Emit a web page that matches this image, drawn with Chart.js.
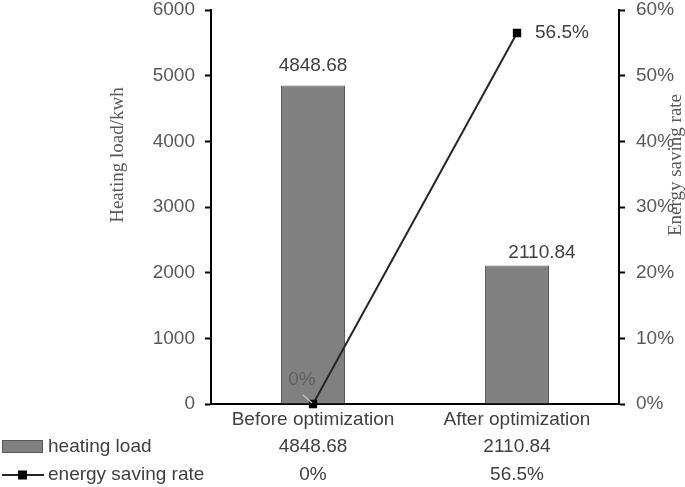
<!DOCTYPE html>
<html>
<head>
<meta charset="utf-8">
<script src="https://cdn.jsdelivr.net/npm/chart.js@4.4.0/dist/chart.umd.min.js"></script>
<style>
  html, body { margin: 0; padding: 0; background: #fff; }
  #wrap { width: 685px; height: 487px; position: relative; }
</style>
</head>
<body>
<div id="wrap"><canvas id="c"></canvas></div>
<script>
const categories = ['Before optimization', 'After optimization'];
const heatingLoad = [4848.68, 2110.84];
const savingRate = [0, 56.5];
const loadTicks = [0, 1000, 2000, 3000, 4000, 5000, 6000];
const rateTicks = [0, 10, 20, 30, 40, 50, 60];
const seriesNames = ['heating load', 'energy saving rate'];

const SANS = '"Liberation Sans", Arial, sans-serif';
const SERIF = '"Liberation Serif", "Times New Roman", serif';
const FS = 19;
const tickGrey = '#595959';
const textGrey = '#404040';

const fmtLoad = v => v.toFixed(2);
const fmtRate = v => v + '%';

// labels, titles and the data table under the axis
const extras = {
    id: 'extras',
    afterDatasetsDraw(chart) {
        const ctx = chart.ctx;
        const x = chart.scales.x;
        ctx.save();
        ctx.font = FS + 'px ' + SANS;
        ctx.fillStyle = textGrey;
        ctx.textAlign = 'center';
        ctx.textBaseline = 'middle';

        // bar values
        const barShift = [[0, -20], [25, -13]];
        chart.getDatasetMeta(0).data.forEach((bar, i) => {
            ctx.fillText(fmtLoad(heatingLoad[i]), bar.x + barShift[i][0], bar.y + barShift[i][1]);
        });

        // line values
        const pts = chart.getDatasetMeta(1).data;
        ctx.fillStyle = '#606060';
        ctx.fillText(fmtRate(savingRate[0]), pts[0].x - 11, pts[0].y - 24);
        ctx.strokeStyle = '#bfbfbf';
        ctx.lineWidth = 1.5;
        ctx.beginPath();
        ctx.moveTo(pts[0].x - 10, pts[0].y - 9);
        ctx.lineTo(pts[0].x - 1, pts[0].y - 1);
        ctx.stroke();
        ctx.fillStyle = textGrey;
        ctx.textAlign = 'left';
        ctx.fillText(fmtRate(savingRate[1]), pts[1].x + 18, pts[1].y);

        // axis titles
        ctx.font = '19px ' + SERIF;
        ctx.fillStyle = tickGrey;
        ctx.textAlign = 'center';
        ctx.save();
        ctx.translate(118, 155);
        ctx.rotate(-Math.PI / 2);
        ctx.fillText('Heating load/kwh', 0, 0);
        ctx.restore();
        ctx.save();
        ctx.translate(676, 165);
        ctx.rotate(-Math.PI / 2);
        ctx.fillText('Energy saving rate', 0, 0);
        ctx.restore();

        // data table
        const row1 = 447, row2 = 475;
        ctx.fillStyle = '#808080';
        ctx.strokeStyle = '#595959';
        ctx.lineWidth = 1;
        ctx.fillRect(2, 440, 41, 13);
        ctx.strokeRect(2.5, 440.5, 40, 12);
        ctx.strokeStyle = '#262626';
        ctx.lineWidth = 2;
        ctx.beginPath();
        ctx.moveTo(2, row2);
        ctx.lineTo(44, row2);
        ctx.stroke();
        ctx.fillStyle = '#000';
        ctx.fillRect(18, row2 - 4.5, 9, 9);

        ctx.font = FS + 'px ' + SANS;
        ctx.fillStyle = textGrey;
        ctx.textAlign = 'left';
        ctx.fillText(seriesNames[0], 48, row1);
        ctx.fillText(seriesNames[1], 48, row2);
        ctx.textAlign = 'center';
        categories.forEach((c, i) => {
            const cx = x.getPixelForValue(i);
            ctx.fillText(fmtLoad(heatingLoad[i]), cx, row1);
            ctx.fillText(fmtRate(savingRate[i]), cx, row2);
        });
        ctx.restore();
    }
};

const fitVertical = w => s => {
    s.width = w;
    s.paddingTop = 10;
    s.paddingBottom = 0;
};

new Chart(document.getElementById('c'), {
    data: {
        labels: categories,
        datasets: [{
            type: 'bar',
            label: seriesNames[0],
            data: heatingLoad,
            yAxisID: 'y',
            backgroundColor: '#808080',
            borderColor: '#595959',
            borderWidth: 1,
            barPercentage: 0.314,
            categoryPercentage: 1,
            order: 2
        }, {
            type: 'line',
            label: seriesNames[1],
            data: savingRate,
            yAxisID: 'y1',
            borderColor: '#262626',
            borderWidth: 2,
            pointStyle: 'rect',
            pointRadius: 4.5,
            pointBackgroundColor: '#000',
            pointBorderColor: '#000',
            clip: false,
            order: 1
        }]
    },
    options: {
        responsive: true,
        maintainAspectRatio: false,
        animation: false,
        layout: { padding: { left: 105, top: 0, right: 0, bottom: 0 } },
        plugins: {
            legend: { display: false },
            tooltip: { enabled: false }
        },
        scales: {
            x: {
                grid: { display: false, drawTicks: false },
                border: { color: '#000', width: 2 },
                ticks: { color: textGrey, font: { size: FS, family: SANS }, padding: 4 },
                afterFit: s => { s.height = 83; }
            },
            y: {
                position: 'left',
                min: 0,
                max: 6000,
                afterBuildTicks: s => { s.ticks = loadTicks.map(v => ({ value: v })); },
                grid: { drawOnChartArea: false, tickLength: 6, tickWidth: 2, tickColor: '#000' },
                border: { color: '#000', width: 2 },
                ticks: { color: tickGrey, font: { size: FS, family: SANS }, padding: 10, callback: v => String(v) },
                afterFit: fitVertical(106)
            },
            y1: {
                position: 'right',
                min: 0,
                max: 60,
                afterBuildTicks: s => { s.ticks = rateTicks.map(v => ({ value: v })); },
                grid: { drawOnChartArea: false, tickLength: 6, tickWidth: 2, tickColor: '#000' },
                border: { color: '#000', width: 2 },
                ticks: { color: tickGrey, font: { size: FS, family: SANS }, padding: 11, callback: v => v + '%' },
                afterFit: fitVertical(66)
            }
        }
    },
    plugins: [extras]
});
</script>
</body>
</html>
